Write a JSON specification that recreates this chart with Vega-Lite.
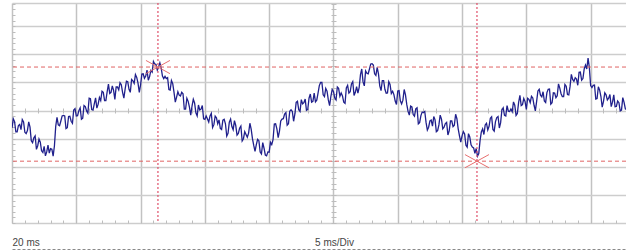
{
  "$schema": "https://vega.github.io/schema/vega-lite/v6.json",
  "width": 614,
  "height": 220,
  "padding": {"left": 12, "top": 3, "right": 0, "bottom": 29},
  "autosize": {"type": "none"},
  "background": "white",
  "config": {"view": {"stroke": null}, "font": "Liberation Sans"},
  "datasets": {
    "trace": [
      {"t":0,"v":-0.62},{"t":0.2,"v":-0.39},{"t":0.4,"v":-0.76},{"t":0.6,"v":-0.49},{"t":0.8,"v":-0.32},{"t":1,"v":-0.77},{"t":1.2,"v":-0.71},{"t":1.4,"v":-0.59},{"t":1.6,"v":-1.14},{"t":1.8,"v":-0.9},
      {"t":2,"v":-1.25},{"t":2.2,"v":-1.12},{"t":2.4,"v":-1.49},{"t":2.6,"v":-1.61},{"t":2.8,"v":-1.23},{"t":3,"v":-1.35},{"t":3.2,"v":-1.62},{"t":3.4,"v":-0.56},{"t":3.6,"v":-0.51},{"t":3.8,"v":-0.37},
      {"t":4,"v":-0.17},{"t":4.2,"v":-0.64},{"t":4.4,"v":-0.21},{"t":4.6,"v":-0.38},{"t":4.8,"v":0.02},{"t":5,"v":-0.19},{"t":5.2,"v":0},{"t":5.4,"v":-0.31},{"t":5.6,"v":0.18},{"t":5.8,"v":-0.01},
      {"t":6,"v":0.44},{"t":6.2,"v":0.04},{"t":6.4,"v":0.24},{"t":6.6,"v":0.09},{"t":6.8,"v":0.47},{"t":7,"v":0.69},{"t":7.2,"v":0.36},{"t":7.4,"v":0.67},{"t":7.6,"v":0.61},{"t":7.8,"v":0.88},
      {"t":8,"v":0.4},{"t":8.2,"v":0.84},{"t":8.4,"v":0.99},{"t":8.6,"v":0.65},{"t":8.8,"v":0.77},{"t":9,"v":1.03},{"t":9.2,"v":0.65},{"t":9.4,"v":1.06},{"t":9.6,"v":1.28},{"t":9.8,"v":0.98},
      {"t":10,"v":0.92},{"t":10.2,"v":1.31},{"t":10.4,"v":1.23},{"t":10.6,"v":1.08},{"t":10.8,"v":1.43},{"t":11,"v":1.75},{"t":11.2,"v":1.64},{"t":11.4,"v":1.55},{"t":11.6,"v":1.52},{"t":11.8,"v":1.14},
      {"t":12,"v":1.14},{"t":12.2,"v":0.75},{"t":12.4,"v":1.07},{"t":12.6,"v":0.65},{"t":12.8,"v":0.48},{"t":13,"v":0.55},{"t":13.2,"v":0.65},{"t":13.4,"v":0.05},{"t":13.6,"v":0.44},{"t":13.8,"v":0.12},
      {"t":14,"v":0.16},{"t":14.2,"v":0.27},{"t":14.4,"v":-0.19},{"t":14.6,"v":0.02},{"t":14.8,"v":0.18},{"t":15,"v":-0.31},{"t":15.2,"v":-0.3},{"t":15.4,"v":-0.19},{"t":15.6,"v":-0.6},{"t":15.8,"v":-0.2},
      {"t":16,"v":-0.47},{"t":16.2,"v":-0.63},{"t":16.4,"v":-0.34},{"t":16.6,"v":-0.47},{"t":16.8,"v":-0.81},{"t":17,"v":-0.3},{"t":17.2,"v":-0.68},{"t":17.4,"v":-0.53},{"t":17.6,"v":-0.81},{"t":17.8,"v":-0.55},
      {"t":18,"v":-1},{"t":18.2,"v":-0.85},{"t":18.4,"v":-0.8},{"t":18.6,"v":-0.66},{"t":18.8,"v":-1.24},{"t":19,"v":-1.21},{"t":19.2,"v":-1.07},{"t":19.4,"v":-1.54},{"t":19.6,"v":-1.34},{"t":19.8,"v":-1.61},
      {"t":20,"v":-1.48},{"t":20.2,"v":-1.21},{"t":20.4,"v":-0.48},{"t":20.6,"v":-0.65},{"t":20.8,"v":-0.73},{"t":21,"v":-0.3},{"t":21.2,"v":-0.12},{"t":21.4,"v":-0.52},{"t":21.6,"v":-0.02},{"t":21.8,"v":-0.03},
      {"t":22,"v":-0.12},{"t":22.2,"v":0.33},{"t":22.4,"v":-0.03},{"t":22.6,"v":0.24},{"t":22.8,"v":0.41},{"t":23,"v":0.04},{"t":23.2,"v":0.59},{"t":23.4,"v":0.33},{"t":23.6,"v":0.31},{"t":23.8,"v":0.62},
      {"t":24,"v":1.0},{"t":24.2,"v":0.56},{"t":24.4,"v":0.79},{"t":24.6,"v":0.38},{"t":24.8,"v":0.51},{"t":25,"v":0.68},{"t":25.2,"v":0.38},{"t":25.4,"v":0.79},{"t":25.6,"v":0.63},{"t":25.8,"v":0.3},
      {"t":26,"v":0.81},{"t":26.2,"v":0.62},{"t":26.4,"v":0.95},{"t":26.6,"v":0.54},{"t":26.8,"v":0.85},{"t":27,"v":0.83},{"t":27.2,"v":1.48},{"t":27.4,"v":0.88},{"t":27.6,"v":1.33},{"t":27.8,"v":1.48},
      {"t":28,"v":1.67},{"t":28.2,"v":1.31},{"t":28.4,"v":1.54},{"t":28.6,"v":0.88},{"t":28.8,"v":1.07},{"t":29,"v":0.76},{"t":29.2,"v":0.63},{"t":29.4,"v":0.93},{"t":29.6,"v":0.69},{"t":29.8,"v":0.34},
      {"t":30,"v":0.7},{"t":30.2,"v":0.35},{"t":30.4,"v":0.37},{"t":30.6,"v":0.56},{"t":30.8,"v":-0.03},{"t":31,"v":0.16},{"t":31.2,"v":-0.14},{"t":31.4,"v":0.06},{"t":31.6,"v":-0.47},{"t":31.8,"v":-0.18},
      {"t":32,"v":-0.07},{"t":32.2,"v":-0.42},{"t":32.4,"v":-0.59},{"t":32.6,"v":-0.34},{"t":32.8,"v":-0.21},{"t":33,"v":-0.75},{"t":33.2,"v":-0.51},{"t":33.4,"v":-0.3},{"t":33.6,"v":-0.59},{"t":33.8,"v":-0.42},
      {"t":34,"v":-0.72},{"t":34.2,"v":-0.37},{"t":34.4,"v":-0.52},{"t":34.6,"v":-0.29},{"t":34.8,"v":-0.9},{"t":35,"v":-0.9},{"t":35.2,"v":-0.83},{"t":35.4,"v":-1.3},{"t":35.6,"v":-0.94},{"t":35.8,"v":-1.3},
      {"t":36,"v":-1.52},{"t":36.2,"v":-1.62},{"t":36.4,"v":-1.07},{"t":36.6,"v":-0.65},{"t":36.8,"v":-0.51},{"t":37,"v":-0.69},{"t":37.2,"v":-0.27},{"t":37.4,"v":-0.67},{"t":37.6,"v":-0.39},{"t":37.8,"v":-0.21},
      {"t":38,"v":-0.43},{"t":38.2,"v":0.1},{"t":38.4,"v":-0.19},{"t":38.6,"v":-0.02},{"t":38.8,"v":0.06},{"t":39,"v":0.31},{"t":39.2,"v":-0.17},{"t":39.4,"v":0.29},{"t":39.6,"v":0.18},{"t":39.8,"v":0.43},
      {"t":40,"v":0.04},{"t":40.2,"v":0.4},{"t":40.4,"v":0.51},{"t":40.6,"v":0.19},{"t":40.8,"v":0.33},{"t":41,"v":0.76},{"t":41.2,"v":0.49},{"t":41.4,"v":0.34},{"t":41.6,"v":0.64},{"t":41.8,"v":0.77},
      {"t":42,"v":0.28},{"t":42.2,"v":0.62},{"t":42.4,"v":0.53},{"t":42.6,"v":0.8},{"t":42.8,"v":0.5},{"t":43,"v":0.93},{"t":43.2,"v":0.57},{"t":43.4,"v":0.86},{"t":43.6,"v":1.11},{"t":43.8,"v":1.17},
      {"t":44,"v":0.9},{"t":44.2,"v":1.37},{"t":44.4,"v":1.14},{"t":44.6,"v":1.62},{"t":44.8,"v":1.87},{"t":45,"v":0.89},{"t":45.2,"v":0.9},{"t":45.4,"v":0.41},{"t":45.6,"v":0.85},{"t":45.8,"v":0.5},
      {"t":46,"v":0.33},{"t":46.2,"v":0.56},{"t":46.4,"v":0.44},{"t":46.6,"v":0.14},{"t":46.8,"v":0.56},{"t":47,"v":0.15},{"t":47.2,"v":0.28},{"t":47.4,"v":0.02},{"t":47.6,"v":0.29},{"t":47.8,"v":0.03},
      {"t":0.1,"v":-0.29},{"t":0.3,"v":-0.76},{"t":0.5,"v":-0.53},{"t":0.7,"v":-0.68},{"t":0.9,"v":-0.4},{"t":1.1,"v":-0.82},{"t":1.3,"v":-0.4},{"t":1.5,"v":-1.07},{"t":1.7,"v":-0.97},{"t":1.9,"v":-1.38},
      {"t":2.1,"v":-1.01},{"t":2.3,"v":-1.43},{"t":2.5,"v":-1.27},{"t":2.7,"v":-1.47},{"t":2.9,"v":-1.51},{"t":3.1,"v":-1.37},{"t":3.3,"v":-1.25},{"t":3.5,"v":-0.24},{"t":3.7,"v":-0.54},{"t":3.9,"v":-0.19},
      {"t":4.1,"v":-0.19},{"t":4.3,"v":-0.61},{"t":4.5,"v":-0.2},{"t":4.7,"v":-0.45},{"t":4.9,"v":0.07},{"t":5.1,"v":-0.18},{"t":5.3,"v":0.1},{"t":5.5,"v":-0.27},{"t":5.7,"v":0.14},{"t":5.9,"v":-0.09},
      {"t":6.1,"v":0.42},{"t":6.3,"v":0.02},{"t":6.5,"v":0.45},{"t":6.7,"v":0.23},{"t":6.9,"v":0.36},{"t":7.1,"v":0.65},{"t":7.3,"v":0.36},{"t":7.5,"v":0.94},{"t":7.7,"v":0.65},{"t":7.9,"v":0.72},
      {"t":8.1,"v":0.84},{"t":8.3,"v":0.74},{"t":8.5,"v":0.92},{"t":8.7,"v":0.44},{"t":8.9,"v":1.05},{"t":9.1,"v":0.76},{"t":9.3,"v":1.11},{"t":9.5,"v":0.97},{"t":9.7,"v":1.18},{"t":9.9,"v":0.65},
      {"t":10.1,"v":1.3},{"t":10.3,"v":1.15},{"t":10.5,"v":1.44},{"t":10.7,"v":1.21},{"t":10.9,"v":1.37},{"t":11.1,"v":1.66},{"t":11.3,"v":1.44},{"t":11.5,"v":1.7},{"t":11.7,"v":1.23},{"t":11.9,"v":1.22},
      {"t":12.1,"v":1.17},{"t":12.3,"v":0.73},{"t":12.5,"v":0.96},{"t":12.7,"v":0.3},{"t":12.9,"v":0.67},{"t":13.1,"v":0.52},{"t":13.3,"v":0.6},{"t":13.5,"v":0.05},{"t":13.7,"v":0.33},{"t":13.9,"v":-0.16},
      {"t":14.1,"v":0.4},{"t":14.3,"v":-0.08},{"t":14.5,"v":0.2},{"t":14.7,"v":0.05},{"t":14.9,"v":-0.29},{"t":15.1,"v":-0.19},{"t":15.3,"v":-0.41},{"t":15.5,"v":-0.1},{"t":15.7,"v":-0.5},{"t":15.9,"v":-0.26},
      {"t":16.1,"v":-0.33},{"t":16.3,"v":-0.67},{"t":16.5,"v":-0.31},{"t":16.7,"v":-0.91},{"t":16.9,"v":-0.41},{"t":17.1,"v":-0.57},{"t":17.3,"v":-0.36},{"t":17.5,"v":-0.87},{"t":17.7,"v":-0.63},{"t":17.9,"v":-1.08},
      {"t":18.1,"v":-0.75},{"t":18.3,"v":-0.95},{"t":18.5,"v":-0.45},{"t":18.7,"v":-1.0},{"t":18.9,"v":-1.45},{"t":19.1,"v":-1.02},{"t":19.3,"v":-1.47},{"t":19.5,"v":-1.14},{"t":19.7,"v":-1.58},{"t":19.9,"v":-1.47},
      {"t":20.1,"v":-1.13},{"t":20.3,"v":-1.03},{"t":20.5,"v":-0.47},{"t":20.7,"v":-0.96},{"t":20.9,"v":-0.37},{"t":21.1,"v":-0.29},{"t":21.3,"v":-0.07},{"t":21.5,"v":-0.47},{"t":21.7,"v":0.03},{"t":21.9,"v":-0.38},
      {"t":22.1,"v":0.29},{"t":22.3,"v":0.03},{"t":22.5,"v":0.39},{"t":22.7,"v":0.28},{"t":22.9,"v":0.01},{"t":23.1,"v":0.44},{"t":23.3,"v":0.3},{"t":23.5,"v":0.62},{"t":23.7,"v":0.37},{"t":23.9,"v":0.89},
      {"t":24.1,"v":1.0},{"t":24.3,"v":0.5},{"t":24.5,"v":0.69},{"t":24.7,"v":0.18},{"t":24.9,"v":0.75},{"t":25.1,"v":0.45},{"t":25.3,"v":0.84},{"t":25.5,"v":0.51},{"t":25.7,"v":0.52},{"t":25.9,"v":0.26},
      {"t":26.1,"v":0.9},{"t":26.3,"v":0.67},{"t":26.5,"v":1.03},{"t":26.7,"v":0.65},{"t":26.9,"v":0.62},{"t":27.1,"v":1.28},{"t":27.3,"v":1.02},{"t":27.5,"v":1.41},{"t":27.7,"v":1.31},{"t":27.9,"v":1.66},
      {"t":28.1,"v":1.62},{"t":28.3,"v":1.25},{"t":28.5,"v":1.31},{"t":28.7,"v":0.71},{"t":28.9,"v":1.07},{"t":29.1,"v":0.62},{"t":29.3,"v":1.03},{"t":29.5,"v":0.61},{"t":29.7,"v":0.57},{"t":29.9,"v":0.22},
      {"t":30.1,"v":0.71},{"t":30.3,"v":0.24},{"t":30.5,"v":0.75},{"t":30.7,"v":0.22},{"t":30.9,"v":-0.16},{"t":31.1,"v":0.13},{"t":31.3,"v":-0.2},{"t":31.5,"v":0.1},{"t":31.7,"v":-0.43},{"t":31.9,"v":-0.05},
      {"t":32.1,"v":-0.03},{"t":32.3,"v":-0.69},{"t":32.5,"v":-0.37},{"t":32.7,"v":-0.55},{"t":32.9,"v":-0.33},{"t":33.1,"v":-0.71},{"t":33.3,"v":-0.16},{"t":33.5,"v":-0.65},{"t":33.7,"v":-0.46},{"t":33.9,"v":-0.87},
      {"t":34.1,"v":-0.37},{"t":34.3,"v":-0.57},{"t":34.5,"v":-0.13},{"t":34.7,"v":-0.65},{"t":34.9,"v":-1.12},{"t":35.1,"v":-0.75},{"t":35.3,"v":-1.23},{"t":35.5,"v":-0.82},{"t":35.7,"v":-1.22},{"t":35.9,"v":-1.33},
      {"t":36.1,"v":-1.35},{"t":36.3,"v":-1.53},{"t":36.5,"v":-0.76},{"t":36.7,"v":-0.85},{"t":36.9,"v":-0.45},{"t":37.1,"v":-0.56},{"t":37.3,"v":-0.22},{"t":37.5,"v":-0.73},{"t":37.7,"v":-0.25},{"t":37.9,"v":-0.62},
      {"t":38.1,"v":0.02},{"t":38.3,"v":-0.17},{"t":38.5,"v":0.18},{"t":38.7,"v":-0.03},{"t":38.9,"v":-0.04},{"t":39.1,"v":0.19},{"t":39.3,"v":-0.1},{"t":39.5,"v":0.54},{"t":39.7,"v":0.21},{"t":39.9,"v":0.32},
      {"t":40.1,"v":0.44},{"t":40.3,"v":0.28},{"t":40.5,"v":0.45},{"t":40.7,"v":-0.01},{"t":40.9,"v":0.7},{"t":41.1,"v":0.55},{"t":41.3,"v":0.67},{"t":41.5,"v":0.29},{"t":41.7,"v":0.76},{"t":41.9,"v":0.23},
      {"t":42.1,"v":0.63},{"t":42.3,"v":0.46},{"t":42.5,"v":0.95},{"t":42.7,"v":0.6},{"t":42.9,"v":0.5},{"t":43.1,"v":0.87},{"t":43.3,"v":0.56},{"t":43.5,"v":1.29},{"t":43.7,"v":1.04},{"t":43.9,"v":1.12},
      {"t":44.1,"v":1.36},{"t":44.3,"v":1.08},{"t":44.5,"v":1.48},{"t":44.7,"v":1.48},{"t":44.9,"v":1.53},{"t":45.1,"v":0.82},{"t":45.3,"v":0.91},{"t":45.5,"v":0.43},{"t":45.7,"v":0.73},{"t":45.9,"v":0.12},
      {"t":46.1,"v":0.63},{"t":46.3,"v":0.38},{"t":46.5,"v":0.57},{"t":46.7,"v":0.3},{"t":46.9,"v":0.14},{"t":47.1,"v":0.34},{"t":47.3,"v":-0.01},{"t":47.5,"v":0.46},{"t":47.7,"v":0.06}
    ],
    "vcursor": [{"t": 11.35}, {"t": 36.16}],
    "hcursor": [{"v": 1.55}, {"v": -1.8}],
    "crossing": [{"t": 11.35, "v": 1.55}, {"t": 36.16, "v": -1.8}]
  },
  "resolve": {"axis": {"x": "independent", "y": "independent"}},
  "layer": [
    {
      "data": {"name": "trace"},
      "mark": {"type": "line", "color": "#20208c", "strokeWidth": 1.3, "clip": true},
      "encoding": {
        "x": {"field": "t", "type": "quantitative",
          "scale": {"domain": [0, 47.75], "nice": false, "zero": false},
          "axis": {"orient": "bottom", "values": [0,5,10,15,20,25,30,35,40,45], "grid": true, "gridColor": "#c2c2c2", "gridWidth": 1.5, "ticks": false, "domain": false, "labels": false, "title": null}},
        "y": {"field": "v", "type": "quantitative",
          "scale": {"domain": [-4, 3.829], "nice": false, "zero": false},
          "axis": {"orient": "left", "values": [-4,-3,-2,-1,0,1,2,3,3.829], "grid": true, "gridColor": "#cdcdcd", "gridWidth": 1.3, "ticks": false, "domain": false, "labels": false, "title": null}}
      }
    },
    {
      "data": {"name": "vcursor"},
      "mark": {"type": "rule", "color": "#e0506a", "strokeDash": [2, 2], "strokeWidth": 1.2},
      "encoding": {
        "x": {"field": "t", "type": "quantitative",
          "scale": {"domain": [0, 47.75], "nice": false, "zero": false},
          "axis": {"orient": "bottom", "values": [0,1,2,3,4,5,6,7,8,9,10,11,12,13,14,15,16,17,18,19,20,21,22,23,24,25,26,27,28,29,30,31,32,33,34,35,36,37,38,39,40,41,42,43,44,45,46,47], "grid": false, "ticks": true, "tickSize": -3, "tickColor": "#bdbdbd", "domain": false, "labels": false, "title": null}}
      }
    },
    {
      "data": {"name": "hcursor"},
      "mark": {"type": "rule", "color": "#e06464", "strokeDash": [4, 3], "strokeWidth": 1},
      "encoding": {
        "y": {"field": "v", "type": "quantitative",
          "scale": {"domain": [-4, 3.829], "nice": false, "zero": false},
          "axis": {"orient": "left", "values": [-4,-3.8,-3.6,-3.4,-3.2,-3,-2.8,-2.6,-2.4,-2.2,-2,-1.8,-1.6,-1.4,-1.2,-1,-0.8,-0.6,-0.4,-0.2,0,0.2,0.4,0.6,0.8,1,1.2,1.4,1.6,1.8,2,2.2,2.4,2.6,2.8,3,3.2,3.4,3.6,3.8], "grid": false, "ticks": true, "tickSize": -3, "tickColor": "#bdbdbd", "domain": false, "labels": false, "title": null}}
      }
    },
    {
      "data": {"name": "crossing"},
      "mark": {"type": "point", "shape": "M-1,-0.55L1,0.55M-1,0.55L1,-0.55", "size": 576, "filled": false, "stroke": "#e87070", "strokeWidth": 1, "opacity": 1},
      "encoding": {
        "x": {"field": "t", "type": "quantitative",
          "scale": {"domain": [0, 47.75], "nice": false, "zero": false},
          "axis": {"orient": "bottom", "offset": -115, "values": [0,1,2,3,4,5,6,7,8,9,10,11,12,13,14,15,16,17,18,19,20,21,22,23,24,25,26,27,28,29,30,31,32,33,34,35,36,37,38,39,40,41,42,43,44,45,46,47], "grid": false, "ticks": true, "tickSize": 5, "tickColor": "#bdbdbd", "domain": false, "labels": false, "title": null}},
        "y": {"field": "v", "type": "quantitative",
          "scale": {"domain": [-4, 3.829], "nice": false, "zero": false},
          "axis": {"orient": "left", "offset": -324, "values": [-4,-3.8,-3.6,-3.4,-3.2,-3,-2.8,-2.6,-2.4,-2.2,-2,-1.8,-1.6,-1.4,-1.2,-1,-0.8,-0.6,-0.4,-0.2,0,0.2,0.4,0.6,0.8,1,1.2,1.4,1.6,1.8,2,2.2,2.4,2.6,2.8,3,3.2,3.4,3.6,3.8], "grid": false, "ticks": true, "tickSize": 5, "tickColor": "#bdbdbd", "domain": false, "labels": false, "title": null}}
      }
    },
    {
      "data": {"name": "vcursor"},
      "mark": {"type": "point", "opacity": 0},
      "encoding": {
        "x": {"field": "t", "type": "quantitative",
          "scale": {"domain": [0, 47.75], "nice": false, "zero": false},
          "axis": {"orient": "bottom", "offset": 26, "values": [0], "grid": false, "ticks": false,
            "domain": true, "domainColor": "#8a8a8a", "domainDash": [3, 2], "domainWidth": 1,
            "labels": true, "labelExpr": "'20 ms'", "labelAlign": "left", "labelBaseline": "middle", "labelPadding": -7, "labelDx": -4,
            "labelFontSize": 10, "labelColor": "#444444", "labelFont": "Liberation Sans",
            "title": "5 ms/Div", "titleX": 322, "titleY": -7, "titleBaseline": "middle", "titleAlign": "center",
            "titleFontSize": 10, "titleFontWeight": "normal", "titleColor": "#444444", "titleFont": "Liberation Sans"}}
      }
    }
  ]
}
